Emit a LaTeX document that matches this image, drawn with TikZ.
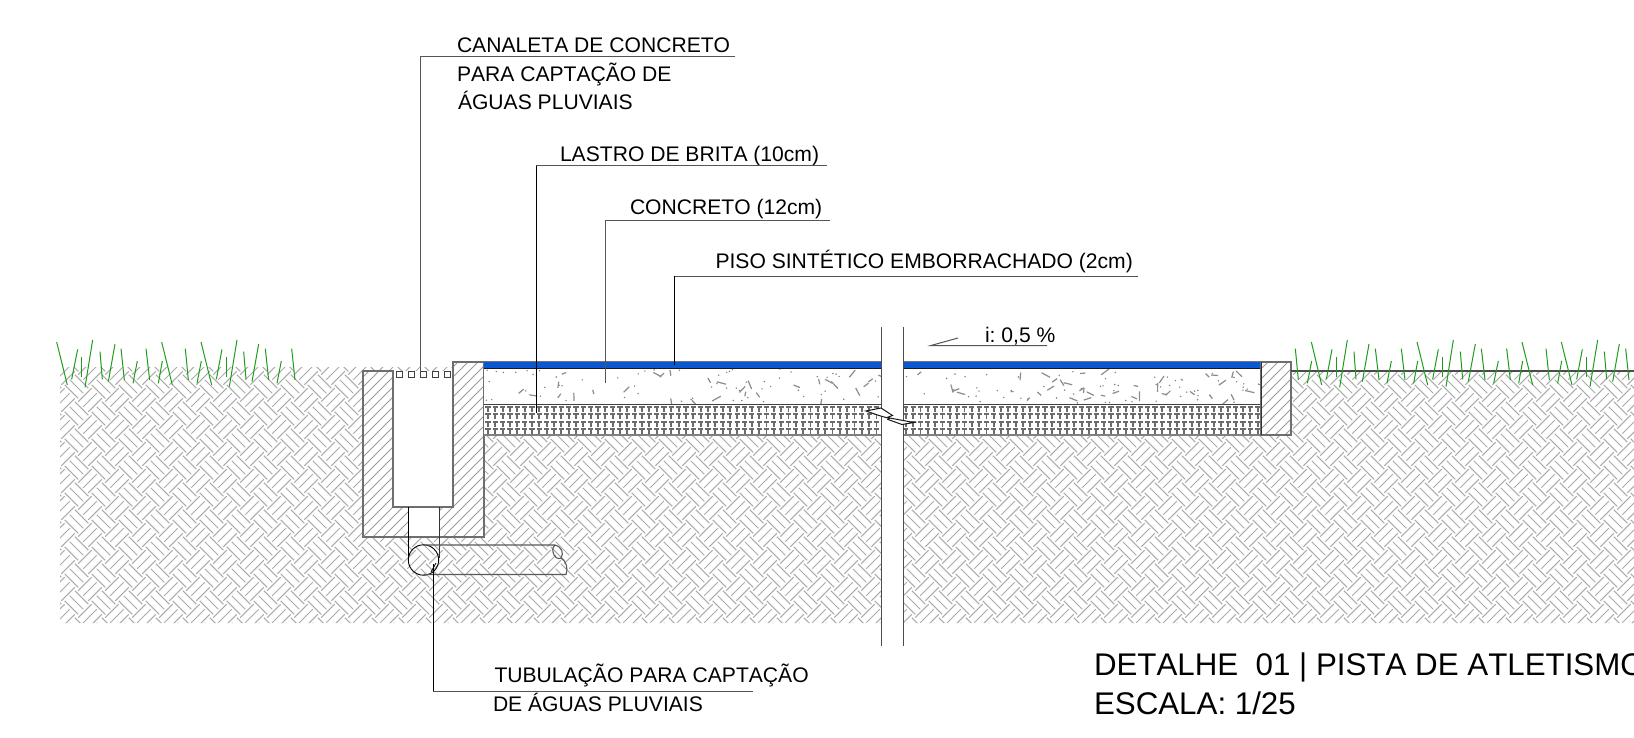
\documentclass[tikz,border=0pt]{standalone}
\usepackage{fontspec}
\setmainfont[Kerning=Off]{Liberation Sans}
\definecolor{earthgray}{HTML}{ABABAB}
\definecolor{wallgray}{HTML}{6E6E6E}
\definecolor{wallhatch}{HTML}{9A9A9A}
\definecolor{grassgreen}{HTML}{1C9E1C}
\definecolor{pisoblue}{HTML}{0A58D2}
\definecolor{linkgray}{HTML}{555555}
\tikzset{
  earthline/.style={draw=earthgray,line width=0.95pt},
  wallline/.style={draw=wallhatch,line width=0.8pt},
  walledge/.style={draw=wallgray,line width=1.3pt,line join=miter},
  grassline/.style={draw=grassgreen,line width=1pt},
  leader/.style={draw=black,line width=0.8pt},
  leadergray/.style={draw=linkgray,line width=1pt},
  label/.style={inner sep=0pt,outer sep=0pt,anchor=base west,font=\fontsize{21.1}{25}\selectfont\frenchspacing},
  title/.style={inner sep=0pt,outer sep=0pt,anchor=base west,font=\fontsize{31.3}{36}\selectfont\frenchspacing},
}
\begin{document}
\begin{tikzpicture}[x=1pt,y=-1pt]
\useasboundingbox (0,0) rectangle (1634,738);
\fill[white] (0,0) rectangle (1634,738);
% earth
\begin{scope}
\clip (60,367) -- (500,367) -- (500,371) -- (1634,371) -- (1634,623) -- (60,623) -- cycle;
\foreach \X in {36,63,...,1650}{
 \foreach \Y in {346,373,...,630}{
  \draw[earthline]
   (\X,\Y) +(-11.81,1.69) -- +(1.69,-11.81)
   (\X,\Y) +(-6.75,6.75) -- +(6.75,-6.75)
   (\X,\Y) +(-1.69,11.81) -- +(11.81,-1.69)
   (\X+13.5,\Y+13.5) +(-11.81,-1.69) -- +(1.69,11.81)
   (\X+13.5,\Y+13.5) +(-6.75,-6.75) -- +(6.75,6.75)
   (\X+13.5,\Y+13.5) +(-1.69,-11.81) -- +(11.81,1.69);
 }
}
\end{scope}
% channel walls
\fill[white] (363,371) -- (393,371) -- (393,507) -- (453,507) -- (453,362) -- (484,362) -- (484,537) -- (363,537) -- cycle;
\fill[white] (393,371) rectangle (453,507);
\begin{scope}
\clip (363,371) -- (393,371) -- (393,507) -- (453,507) -- (453,362) -- (484,362) -- (484,537) -- (363,537) -- cycle;
\foreach \s in {150,160,...,500}{
  \draw[wallline] (\s,540) -- ++(190,-190);
}
\end{scope}
\fill[white] (408,507) rectangle (439,537);
\draw[walledge] (393,371) -- (363,371) -- (363,537) -- (484,537) -- (484,362) -- (453,362) -- (453,507) -- (393,507) -- cycle;
\foreach \q in {396,408,420.5,432.5,444.5}{
  \draw[draw=black!75,line width=0.9pt] (\q,371) rectangle ++(6.3,6.3);
}
% small pipe and tube
\draw[draw=black,line width=0.8pt] (408,507) -- (408,558);
\draw[draw=black!80,line width=1pt] (439,507) -- (439,558);
\draw[draw=black,line width=0.9pt] (423.5,560) circle (15.2);
\draw[draw=black!65,line width=1.1pt] (423.5,545) -- (555,545)
  .. controls (562,547) and (564,553) .. (561,558)
  .. controls (558,560) and (554,557) .. (553,552)
  .. controls (552,548) and (554,546) .. (555,545);
\draw[draw=black!65,line width=1.1pt] (561,558) .. controls (567,561) and (568,570) .. (566,574.5) -- (423.5,574.5);
% pavement
\fill[white] (484,362) rectangle (1261,435);
\begin{scope}
\clip (484,368) rectangle (1261,404);
\pgfmathsetseed{4711}
\foreach \i in {1,...,130}{
  \pgfmathsetmacro{\px}{484+777*rnd}
  \pgfmathsetmacro{\py}{369+34*rnd}
  \fill[black!50] (\px,\py) circle (0.8);
}
\foreach \i in {1,...,70}{
  \pgfmathsetmacro{\px}{484+777*rnd}
  \pgfmathsetmacro{\py}{371+30*rnd}
  \pgfmathsetmacro{\pa}{360*rnd}
  \pgfmathsetmacro{\pl}{4+6*rnd}
  \draw[draw=black!45,line width=1.2pt] (\px,\py) -- ++(\pa:\pl);
}
\end{scope}
\foreach \X in {488,495.33,...,1258}{
  \foreach \Y in {406.7,414.2,421.7,429.2}{
    \draw[draw=black!58,line width=1.9pt]
      (\X-2.6,\Y) -- ++(5.2,0)
      (\X,\Y) -- ++(0,4.8);
  }
}
\draw[draw=black!75,line width=0.9pt] (484,404) -- (1261,404);
\draw[draw=black!50,line width=2.2pt] (484,435) -- (1261,435);
\fill[pisoblue] (484,362) rectangle (1261,368.2);
\draw[draw=black!55,line width=0.7pt] (484,361.8) -- (1261,361.8);
\draw[draw=black!90,line width=0.7pt] (484,368.4) -- (1261,368.4);
% right kerb
\fill[white] (1261,362) rectangle (1291,435);
\begin{scope}
\clip (1261,362) rectangle (1291,435);
\foreach \s in {1180,1190,...,1300}{
  \draw[wallline] (\s,440) -- ++(100,-100);
}
\end{scope}
\draw[walledge] (1261,362) rectangle (1291,435);
\draw[draw=black!80,line width=1pt] (1261,362) -- (1261,435);
\draw[draw=black!70,line width=1.2pt] (1291,371) -- (1634,371);
% grass
\foreach \a/\b/\c/\d in {50/36/82/165,113/58/95/148,125/80/125/140,158/30/135/172,180/65/187/148,225/42/205/155,243/56/253/150,292/93/279/160,318/56/329/150,367/93/355/160,365/36/397/165,436/56/445/150,483/36/515/165,484/93/471/160,546/58/529/148,558/80/558/140,591/30/568/170,611/65/618/148,656/42/636/155,676/56/686/150,724/93/711/160,755/56/765/150}{
  \draw[grassline] (40+\a/3,330+\b/3) -- (40+\c/3,330+\d/3);
}
\foreach \a/\b/\c/\d in {286/56/295/150,334/36/365/165,335/93/322/160,396/58/379/148,408/80/408/140,442/30/419/172,462/65/468/148,507/42/487/155,526/56/537/150,574/93/561/160,604/56/615/150,653/93/641/160,651/36/683/165,715/58/698/148,727/80/727/140,760/30/738/170,781/65/788/148,826/42/805/155,844/56/855/150,895/93/881/160,920/56/931/150,968/93/956/160,966/36/998/165,1038/56/1048/150,1084/36/1116/165,1085/93/1073/160,1147/58/1130/148,1159/80/1159/140,1193/30/1170/170,1213/65/1220/148,1258/42/1238/155,1277/56/1287/150}{
  \draw[grassline] (1200+\a/3,330+\b/3) -- (1200+\c/3,330+\d/3);
}
% break strip
\fill[white] (881,327) rectangle (903,646);
\draw[draw=black!70,line width=0.9pt] (881,327) -- (881,646);
\draw[draw=black!70,line width=0.9pt] (903,327) -- (903,646);
\filldraw[fill=white,draw=black!90,line width=1pt,line join=miter]
  (866,411) -- (881,408) -- (892.5,415.5) -- (887,417.5) -- (914,422.5) -- (902,424.5) -- (888,419.5) -- (889.5,418.5) -- (879,415.5) -- cycle;
% slope mark
\coordinate (slopeA) at (931,345.5);
\coordinate (slopeB) at (1047,345.5);
\coordinate (slopeC) at (958,338);
\draw[leadergray] (slopeC) -- (slopeA) -- (slopeB);
\node[label] (slope) at (985,342.7) {i: 0,5 \%};
% labels
\node[label] (t1a) at (457,52.5) {CANALETA DE CONCRETO};
\node[label] (t1b) at (457,81.5) {PARA CAPTAÇÃO DE};
\node[label] (t1c) at (458,109.5) {ÁGUAS PLUVIAIS};
\node[label] (t2) at (560,161.5) {LASTRO DE BRITA (10cm)};
\node[label] (t3) at (630,215) {CONCRETO (12cm)};
\node[label] (t4) at (715.5,269) {PISO SINTÉTICO EMBORRACHADO (2cm)};
\node[label] (t5a) at (494.5,682.5) {TUBULAÇÃO PARA CAPTAÇÃO};
\node[label] (t5b) at (493,711.5) {DE ÁGUAS PLUVIAIS};
\node[title] (d1) at (1094,675.5) {DETALHE\ \ 01 | PISTA DE ATLETISMO};
\node[title] (d2) at (1094,714.5) {ESCALA: 1/25};
% leaders
\coordinate (l1a) at (735,57);  \coordinate (l1b) at (420,57);  \coordinate (l1c) at (420,372);
\coordinate (l2a) at (827,166); \coordinate (l2b) at (536,166); \coordinate (l2c) at (536,413);
\coordinate (l3a) at (830,221); \coordinate (l3b) at (605,221); \coordinate (l3c) at (605,383);
\coordinate (l4a) at (1138,276.5); \coordinate (l4b) at (674,276.5); \coordinate (l4c) at (674,365);
\coordinate (l5a) at (753,691); \coordinate (l5b) at (433,691); \coordinate (l5c) at (433,564);
\draw[leadergray] (l1a) -- (l1b) -- (l1c);
\draw[leadergray] (l2a) -- (l2b);
\draw[leader] (l2b) -- (l2c);
\draw[leadergray] (l3a) -- (l3b) -- (l3c);
\draw[leadergray] (l4a) -- (l4b);
\draw[leader] (l4b) -- (l4c);
\draw[leadergray] (l5a) -- (l5b);
\draw[leader] (l5b) -- (l5c);
\draw[leader] (436,563) -- (431,572);
\end{tikzpicture}
\end{document}
